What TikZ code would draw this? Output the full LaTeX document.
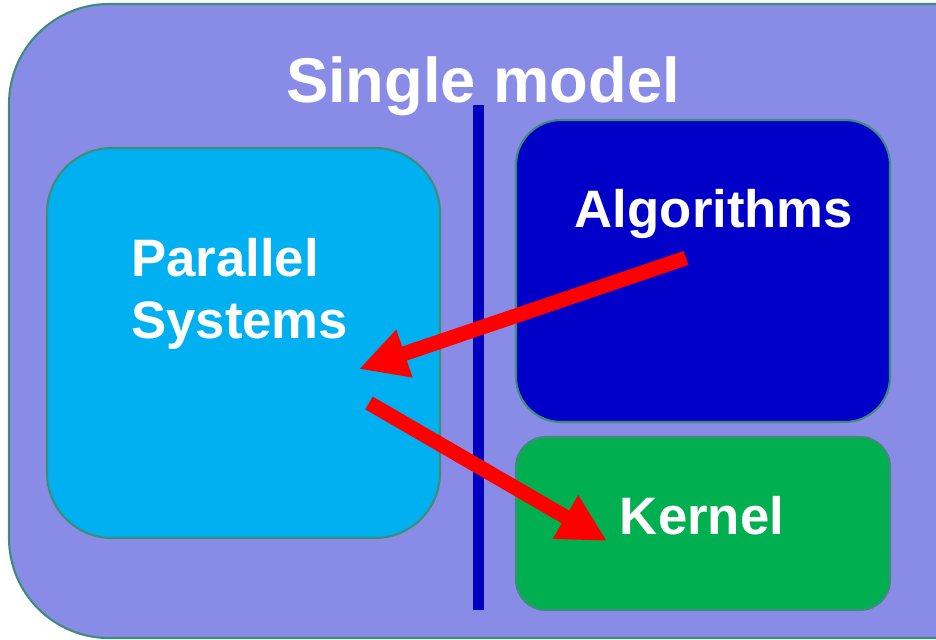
\documentclass[tikz,border=0pt]{standalone}
\usepackage{fontspec}
\setmainfont{Liberation Sans}
\usetikzlibrary{arrows.meta}

\definecolor{modelfill}{RGB}{137,140,230}
\definecolor{edgeteal}{RGB}{62,140,122}
\definecolor{parfill}{RGB}{0,176,240}
\definecolor{algfill}{RGB}{0,0,200}
\definecolor{kerfill}{RGB}{0,176,80}
\definecolor{divider}{RGB}{0,0,192}

\tikzset{
  box/.style={draw=edgeteal, line width=1.2pt},
  bigtext/.style={text=white, font=\bfseries\fontsize{36}{43}\selectfont, inner sep=0pt},
  boxtext/.style={text=white, font=\bfseries\fontsize{30}{36}\selectfont, inner sep=0pt},
  flow/.style={draw=red, line width=8.4pt, -{Triangle[length=0.96cm,width=0.94cm]}}
}

\begin{document}
\begin{tikzpicture}[x=0.02cm, y=-0.02cm]
        \clip (0,0) rectangle (936,639);
        \fill[white] (0,0) rectangle (936,639);

        % Outer single model box
        \filldraw[box, fill=modelfill, rounded corners=2cm] (9,4) rectangle (1040,638);
        \node[bigtext, anchor=base] (single) at (483,102) {Single model};

        % Dividing line
        \fill[divider] (473,105) rectangle (484,610);

        % Inner boxes
        \filldraw[box, fill=parfill, rounded corners=1.3cm] (47,148) rectangle (440,538);
        \filldraw[box, fill=algfill, rounded corners=0.9cm] (516,120) rectangle (890,422);
        \filldraw[box, fill=kerfill, rounded corners=0.6cm] (516,437) rectangle (890,610);

        % Labels
        \node[boxtext, anchor=base] (alg) at (714,227) {Algorithms};
        \node[boxtext, anchor=base west] (par) at (131,276) {Parallel};
        \node[boxtext, anchor=base west] (sys) at (131,338) {Systems};
        \node[boxtext, anchor=base] (ker) at (702,534) {Kernel};

        % Arrows
        \coordinate (algout) at (686,258);
        \coordinate (parin) at (359,369);
        \coordinate (parout) at (369,403);
        \coordinate (kerin) at (607,541);
        \draw[flow] (algout) -- (parin);
        \draw[flow] (parout) -- (kerin);
\end{tikzpicture}
\end{document}
